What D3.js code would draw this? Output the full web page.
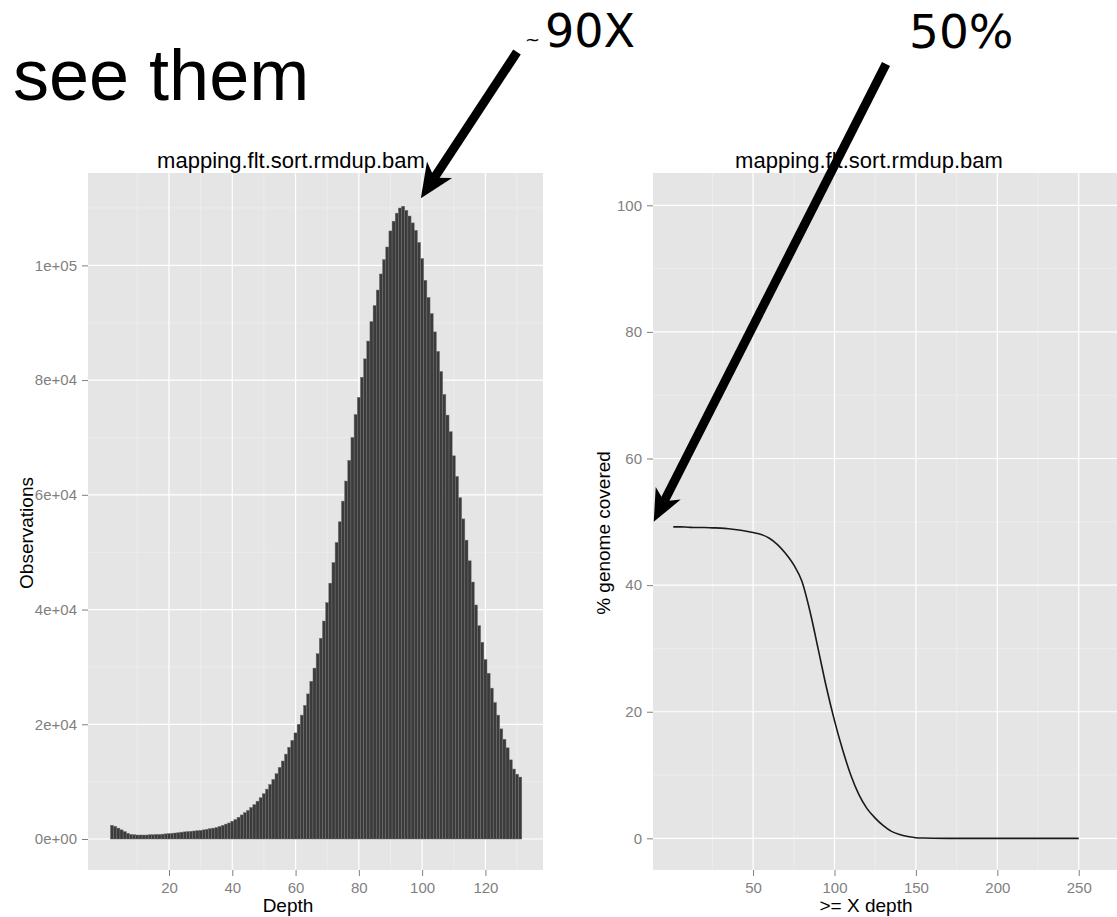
<!DOCTYPE html>
<html>
<head>
<meta charset="utf-8">
<script src="https://cdnjs.cloudflare.com/ajax/libs/d3/7.8.5/d3.min.js"></script>
<style>
	body { margin: 0; background: #ffffff; }
	svg { display: block; font-family: "Liberation Sans", Arial, sans-serif; }
	.tick text { fill: #7f7f7f; font-size: 15px; }
	.tick line { stroke: #7f7f7f; }
	.axis-title { fill: #000000; font-size: 19px; }
	.plot-title { fill: #000000; font-size: 22px; }
	.note { font-family: "DejaVu Sans", sans-serif; fill: #000000; }
</style>
</head>
<body>
<div id="figure"></div>
<script>

// Histogram: observations per depth bin, first bin is depth 2
var depthStart = 2;
var observations = [
	2400, 2200, 1900, 1600, 1300, 1000, 800, 750, 700, 700,
	700, 700, 750, 750, 800, 800, 850, 900, 950, 1000,
	1050, 1100, 1200, 1250, 1300, 1350, 1400, 1450, 1500, 1600,
	1700, 1800, 1900, 2000, 2200, 2400, 2600, 2800, 3100, 3400,
	3800, 4200, 4600, 5000, 5500, 6000, 6600, 7200, 7900, 8700,
	9500, 10400, 11400, 12500, 13600, 14800, 16000, 17200, 18500, 20000,
	21600, 23300, 25300, 27500, 29800, 32300, 35000, 38000, 41200, 44600,
	48200, 51700, 55300, 58900, 62400, 66000, 70000, 74000, 77000, 80500,
	83700, 86800, 90200, 93000, 95700, 98500, 101000, 103200, 106000, 107700,
	109100, 110000, 110300, 109600, 108600, 107400, 106100, 104000, 101200, 97400,
	94400, 91600, 88400, 85000, 81500, 77500, 73900, 71000, 66800, 63200,
	59500, 55800, 52100, 48500, 44800, 40800, 37200, 34300, 31300, 28900,
	26300, 23800, 21600, 19200, 17400, 15900, 13800, 12200, 11300, 10800
];

// Cumulative coverage: % genome covered at >= X depth
var coverageDepth = [1, 5, 10, 15, 20, 25, 30, 35, 40, 45, 50, 55, 60, 65, 70, 75, 80, 85, 90, 95, 100,
	105, 110, 115, 120, 125, 130, 135, 140, 145, 150, 155, 160, 170, 180, 190, 200, 210, 220, 230, 240, 250];
var coveragePct = [49.2, 49.2, 49.15, 49.1, 49.1, 49.05, 49.0, 48.9, 48.75, 48.55, 48.3, 48.0, 47.4, 46.4, 45.0, 43.2, 40.6, 35.8, 29.9, 23.9, 18.6,
	14.0, 10.0, 6.9, 4.7, 3.2, 2.0, 1.1, 0.6, 0.3, 0.1, 0.05, 0.02, 0, 0, 0, 0, 0, 0, 0, 0, 0];

// Axis ticks and labels
var histXTicks = [20, 40, 60, 80, 100, 120];
var histXMinor = [10, 30, 50, 70, 90, 110, 130];
var histYTicks = [0, 20000, 40000, 60000, 80000, 100000];
var histYLabels = ["0e+00", "2e+04", "4e+04", "6e+04", "8e+04", "1e+05"];
var histYMinor = [10000, 30000, 50000, 70000, 90000, 110000];
var covXTicks = [50, 100, 150, 200, 250];
var covXMinor = [25, 75, 125, 175, 225, 275];
var covYTicks = [0, 20, 40, 60, 80, 100];
var covYMinor = [10, 30, 50, 70, 90];

var plotTitle = "mapping.flt.sort.rmdup.bam";

let svg_width = 1117,
	svg_height = 917;

var svg = d3.select("#figure").append("svg")
	.attr("width", svg_width)
	.attr("height", svg_height);

// Panel boxes
var histBox = { left: 88, right: 543, top: 173, bottom: 870 },
	covBox = { left: 653, right: 1117, top: 173, bottom: 870 };

var xHist = d3.scaleLinear().domain([-5.6, 138.2]).range([histBox.left, histBox.right]),
	yHist = d3.scaleLinear().domain([-5400, 116100]).range([histBox.bottom, histBox.top]);

var xCov = d3.scaleLinear().domain([-11.45, 273.5]).range([covBox.left, covBox.right]),
	yCov = d3.scaleLinear().domain([-5, 105.1]).range([covBox.bottom, covBox.top]);

function drawPanel(box, xs, ys, xMajor, xMinor, yMajor, yMinor) {
	var g = svg.append("g");
	g.append("rect")
		.attr("x", box.left)
		.attr("y", box.top)
		.attr("width", box.right - box.left)
		.attr("height", box.bottom - box.top)
		.style("fill", "#e5e5e5");
	// minor grid first, major on top
	g.selectAll(".minor-x").data(xMinor).enter().append("line")
		.attr("x1", xs).attr("x2", xs)
		.attr("y1", box.top).attr("y2", box.bottom)
		.style("stroke", "#f2f2f2").style("stroke-width", 0.6);
	g.selectAll(".minor-y").data(yMinor).enter().append("line")
		.attr("y1", ys).attr("y2", ys)
		.attr("x1", box.left).attr("x2", box.right)
		.style("stroke", "#f2f2f2").style("stroke-width", 0.6);
	g.selectAll(".major-x").data(xMajor).enter().append("line")
		.attr("x1", xs).attr("x2", xs)
		.attr("y1", box.top).attr("y2", box.bottom)
		.style("stroke", "#ffffff").style("stroke-width", 1.2);
	g.selectAll(".major-y").data(yMajor).enter().append("line")
		.attr("y1", ys).attr("y2", ys)
		.attr("x1", box.left).attr("x2", box.right)
		.style("stroke", "#ffffff").style("stroke-width", 1.2);
	return g;
}

function drawAxes(box, xs, ys, xTicks, yTicks, yLabels) {
	var xAxis = d3.axisBottom(xs).tickValues(xTicks).tickSize(6).tickPadding(6).tickFormat(d3.format("d"));
	var yAxis = d3.axisLeft(ys).tickValues(yTicks).tickSize(6).tickPadding(5)
		.tickFormat(function(d, i) { return yLabels ? yLabels[i] : d3.format("d")(d); });
	svg.append("g")
		.attr("transform", "translate(0," + box.bottom + ")")
		.call(xAxis)
		.call(function(a) { a.select(".domain").remove(); });
	svg.append("g")
		.attr("transform", "translate(" + box.left + ",0)")
		.call(yAxis)
		.call(function(a) { a.select(".domain").remove(); });
	svg.selectAll(".tick text").attr("font-family", null).attr("font-size", null);
}

//
// Left: depth histogram
//
drawPanel(histBox, xHist, yHist, histXTicks, histXMinor, histYTicks, histYMinor);

svg.append("g").selectAll(".depth-bar")
	.data(observations)
	.enter()
	.append("rect")
	.attr("class", "depth-bar")
	.attr("x", function(d, i) { return xHist(depthStart + i - 0.5); })
	.attr("width", xHist(1) - xHist(0))
	.attr("y", function(d) { return yHist(d); })
	.attr("height", function(d) { return yHist(0) - yHist(d); })
	.style("fill", "#3b3b3b")
	.style("stroke", "#727272")
	.style("stroke-width", 0.45);

drawAxes(histBox, xHist, yHist, histXTicks, histYTicks, histYLabels);

//
// Right: cumulative coverage
//
drawPanel(covBox, xCov, yCov, covXTicks, covXMinor, covYTicks, covYMinor);

var coverageLine = d3.line()
	.x(function(d, i) { return xCov(coverageDepth[i]); })
	.y(function(d) { return yCov(d); })
	.curve(d3.curveMonotoneX);

svg.append("path")
	.datum(coveragePct)
	.attr("d", coverageLine)
	.style("fill", "none")
	.style("stroke", "#1a1a1a")
	.style("stroke-width", 1.6);

drawAxes(covBox, xCov, yCov, covXTicks, covYTicks, null);

// Titles
svg.append("text").attr("class", "plot-title").attr("x", 291).attr("y", 168)
	.attr("text-anchor", "middle").text(plotTitle);
svg.append("text").attr("class", "plot-title").attr("x", 869).attr("y", 168)
	.attr("text-anchor", "middle").text(plotTitle);

svg.append("text").attr("class", "axis-title").attr("x", 288).attr("y", 912)
	.attr("text-anchor", "middle").text("Depth");
svg.append("text").attr("class", "axis-title").attr("x", 866).attr("y", 912)
	.attr("text-anchor", "middle").text(">= X depth");

svg.append("text").attr("class", "axis-title")
	.attr("transform", "translate(33,533) rotate(-90)")
	.attr("text-anchor", "middle").text("Observations");
svg.append("text").attr("class", "axis-title")
	.attr("transform", "translate(610,533) rotate(-90)")
	.attr("text-anchor", "middle").text("% genome covered");

//
// Slide annotations
//
svg.append("text")
	.attr("x", 13).attr("y", 100)
	.style("font-family", "'Liberation Sans', Arial, sans-serif")
	.style("font-size", "72px")
	.style("fill", "#000")
	.text("see them");

svg.append("text").attr("class", "note").attr("x", 525).attr("y", 46)
	.style("font-size", "18px").text("~");
svg.append("text").attr("class", "note").attr("x", 545).attr("y", 47)
	.style("font-size", "46px").text("90X");
svg.append("text").attr("class", "note").attr("x", 909).attr("y", 48)
	.style("font-size", "47px").text("50%");

function drawArrow(tail, tip, headLen, headHalf) {
	var dx = tip[0] - tail[0], dy = tip[1] - tail[1];
	var len = Math.sqrt(dx * dx + dy * dy);
	var ux = dx / len, uy = dy / len;
	var px = -uy, py = ux;
	var back = [tip[0] - headLen * ux, tip[1] - headLen * uy];
	var notch = [tip[0] - headLen * 0.72 * ux, tip[1] - headLen * 0.72 * uy];
	svg.append("line")
		.attr("x1", tail[0]).attr("y1", tail[1])
		.attr("x2", notch[0]).attr("y2", notch[1])
		.style("stroke", "#000").style("stroke-width", 9);
	svg.append("path")
		.attr("d", d3.line()([
			tip,
			[back[0] + headHalf * px, back[1] + headHalf * py],
			notch,
			[back[0] - headHalf * px, back[1] - headHalf * py]
		]) + "Z")
		.style("fill", "#000");
}

// ~90X points at the histogram peak, 50% points at the coverage axis
drawArrow([517, 52], [xHist(99.6), yHist(111700)], 34, 15);
drawArrow([886, 64], [xCov(-11), yCov(50)], 32, 14);

</script>
</body>
</html>
